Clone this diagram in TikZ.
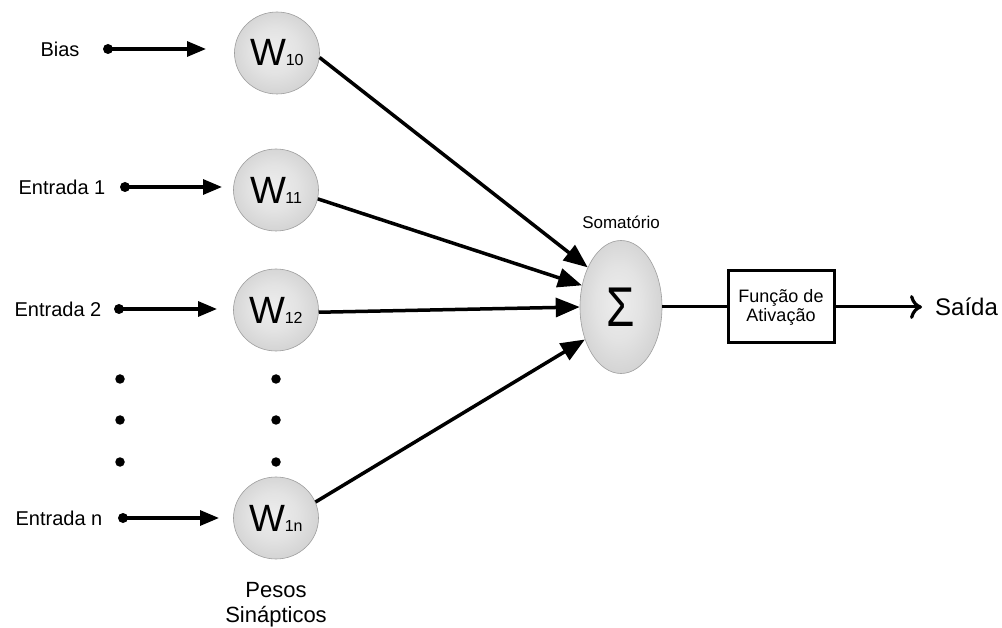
\documentclass[tikz,border=0pt]{standalone}
\usepackage{fontspec}
\setmainfont{Liberation Sans}
\usetikzlibrary{arrows.meta,shapes.geometric}
\newcommand{\fs}[1]{\fontsize{#1}{#1}\selectfont}
\newcommand{\wlabel}[1]{{\fs{38}W}\kern-0.5pt{\fs{16}#1}}
% soft grey sphere look
\pgfdeclareradialshading{sphere}{\pgfpoint{-2bp}{2bp}}{%
  color(0bp)=(black!7); color(14bp)=(black!11); color(28bp)=(black!18);
  color(42bp)=(black!27); color(50bp)=(black!36)}
\tikzset{
  weight/.style={ellipse, minimum width=85pt, minimum height=82pt, inner sep=0pt,
    shading=sphere, draw=black!38, line width=0.6pt},
  sumnode/.style={ellipse, minimum width=82pt, minimum height=133pt, inner sep=0pt,
    shading=sphere, draw=black!38, line width=0.6pt},
  srcdot/.style={circle, fill=black, minimum size=10pt, inner sep=0pt},
  vdot/.style={circle, fill=black, minimum size=9.5pt, inner sep=0pt},
  feed/.style={line width=3.2pt, -{Triangle[length=19pt,width=15pt]}},
  link/.style={line width=3.5pt, -{Triangle[length=24pt,width=19pt]}},
  lbl/.style={font=\fs{20}, inner sep=0pt},
  actbox/.style={draw, line width=3pt, minimum width=106pt, minimum height=72pt,
    align=center, font=\fs{18}, inner sep=2pt}
}
\begin{document}
\begin{tikzpicture}[x=1pt,y=-1pt]
\useasboundingbox (0,0) rectangle (1002,628);
\fill[white] (0,0) rectangle (1002,628);

% synaptic weights
\node[weight] (w0) at (277,53) {\wlabel{10}};
\node[weight] (w1) at (276,190) {\wlabel{11}};
\node[weight] (w2) at (276,310) {\wlabel{12}};
\node[weight] (wn) at (276,518) {\wlabel{1n}};

% inputs
\node[lbl] (lb) at (60,49) {Bias};
\node[lbl] (l1) at (62,187) {Entrada 1};
\node[lbl] (l2) at (58,309) {Entrada 2};
\node[lbl] (ln) at (59,518) {Entrada n};

\node[srcdot] (d0) at (108,49) {};
\node[srcdot] (d1) at (125,187) {};
\node[srcdot] (d2) at (119,309) {};
\node[srcdot] (dn) at (123,518) {};

\coordinate (t0) at (206,49);
\coordinate (t1) at (222,187);
\coordinate (t2) at (217,309);
\coordinate (tn) at (219,518);

\draw[feed] (d0.center) -- (t0);
\draw[feed] (d1.center) -- (t1);
\draw[feed] (d2.center) -- (t2);
\draw[feed] (dn.center) -- (tn);

% ellipsis dots
\node[vdot] (a1) at (120,379) {};
\node[vdot] (a2) at (120,420) {};
\node[vdot] (a3) at (120,462) {};
\node[vdot] (b1) at (276,379) {};
\node[vdot] (b2) at (276,420) {};
\node[vdot] (b3) at (276,462) {};

% summation
\node[sumnode] (s) at (621,307) {\fs{56}\scalebox{0.82}[1]{Σ}};
\node[font=\fs{17}] (st) at (621,222) {Somatório};

\draw[link] (w0.-6) -- (s.130);
\draw[link] (w1.-12) -- (s.151);
\draw[link] (w2.-3) -- (s.west);
\draw[link] (wn.22) -- (s.-138);

% activation and output
\node[actbox] (f) at (781,307) {Função de\\[1pt]Ativação};
\node[font=\fs{24}, anchor=west, inner sep=0pt] (out) at (935,307) {Saída};
\draw[line width=3pt] (s.east) -- (f.west);
\draw[line width=3pt, -{To[length=12pt,width=24pt,line width=3.2pt]}] (f.east) -- ([xshift=-13pt]out.west);

\node[font=\fs{22}, align=center] (pw) at (276,605) {Pesos\\[3pt]Sinápticos};
\end{tikzpicture}
\end{document}
